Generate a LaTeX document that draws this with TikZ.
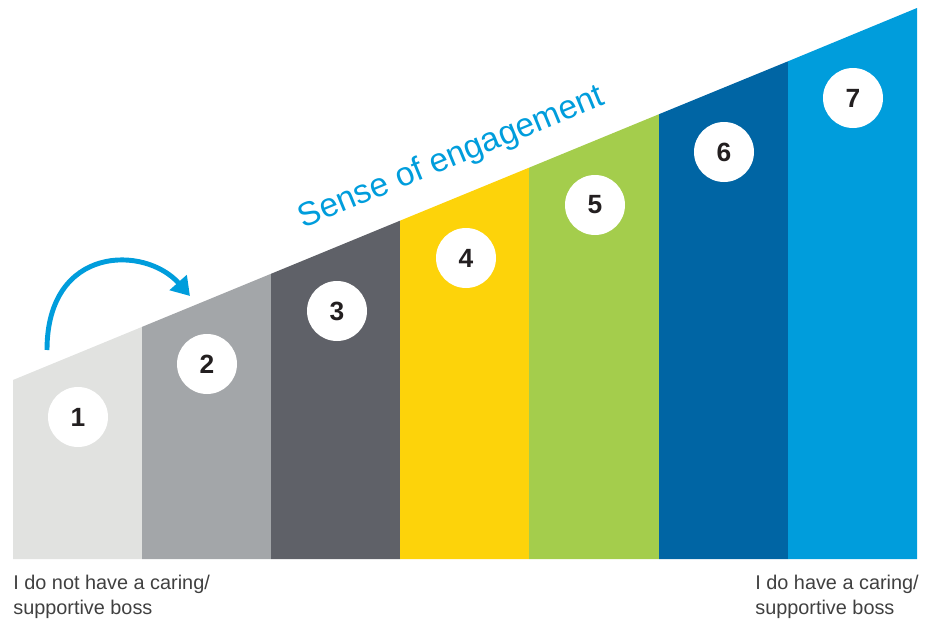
\documentclass[tikz,border=0pt]{standalone}
\usepackage{xcolor}
\usepackage{fontspec}
\setmainfont{Liberation Sans}
\usepackage{tikz}
\usetikzlibrary{arrows.meta}

\definecolor{barone}{HTML}{E1E2E0}
\definecolor{bartwo}{HTML}{A3A6A9}
\definecolor{barthree}{HTML}{5F6168}
\definecolor{barfour}{HTML}{FDD30A}
\definecolor{barfive}{HTML}{A4CD4C}
\definecolor{barsix}{HTML}{0065A4}
\definecolor{barseven}{HTML}{009DDC}
\definecolor{engageblue}{HTML}{009DDC}
\definecolor{numtext}{HTML}{231F20}

\tikzset{
  stepdisc/.style={circle, fill=white, minimum size=1.2cm, inner sep=0pt,
    text=numtext, font=\bfseries\fontsize{15}{15}\selectfont},
  bosslabel/.style={anchor=base west, align=left, inner sep=0pt, text=black!75,
    font=\fontsize{11.3}{14.2}\selectfont},
  flow/.style={engageblue, line width=2.8pt,
    -{Triangle[length=3.6mm,width=4.4mm]}}
}

\begin{document}
\begin{tikzpicture}[scale=0.2]
        \useasboundingbox (0,0) rectangle (92.6,-62.1);
        % bars, top edge rising from left to right
        \fill [barone] (1.3,-55.9) -- (1.3,-38.0) -- (14.2,-32.69) -- (14.2,-55.9) -- cycle;
        \fill [bartwo] (14.2,-55.9) -- (14.2,-32.69) -- (27.1,-27.38) -- (27.1,-55.9) -- cycle;
        \fill [barthree] (27.1,-55.9) -- (27.1,-27.38) -- (40.0,-22.07) -- (40.0,-55.9) -- cycle;
        \fill [barfour] (40.0,-55.9) -- (40.0,-22.07) -- (52.9,-16.77) -- (52.9,-55.9) -- cycle;
        \fill [barfive] (52.9,-55.9) -- (52.9,-16.77) -- (65.9,-11.42) -- (65.9,-55.9) -- cycle;
        \fill [barsix] (65.9,-55.9) -- (65.9,-11.42) -- (78.8,-6.13) -- (78.8,-55.9) -- cycle;
        \fill [barseven] (78.8,-55.9) -- (78.8,-6.13) -- (91.7,-0.8) -- (91.7,-55.9) -- cycle;
        % numbered discs
        \node [stepdisc] (n1) at (7.8,-41.7) {1};
        \node [stepdisc] (n2) at (20.7,-36.4) {2};
        \node [stepdisc] (n3) at (33.7,-31.1) {3};
        \node [stepdisc] (n4) at (46.6,-25.8) {4};
        \node [stepdisc] (n5) at (59.5,-20.5) {5};
        \node [stepdisc] (n6) at (72.4,-15.2) {6};
        \node [stepdisc] (n7) at (85.3,-9.8) {7};
        % title along the slope
        \node [anchor=base, rotate=22.4, inner sep=0pt, text=engageblue,
          font=\fontsize{19}{19}\selectfont] (engage) at (45.5,-16.6) {Sense of engagement};
        % curved arrow from step 1 to step 2
        \coordinate (arrowstart) at (4.7,-35.0);
        \coordinate (arrowend) at (19.0,-29.6);
        \draw [flow] (arrowstart) .. controls (4.7,-24.5) and (14.5,-24.5) .. (arrowend);
        % end labels
        \node [bosslabel] (lowboss) at (1.3,-61.4) {I do not have a caring/\\supportive boss};
        \node [bosslabel] (highboss) at (75.5,-61.4) {I do have a caring/\\supportive boss};
    \end{tikzpicture}
\end{document}
